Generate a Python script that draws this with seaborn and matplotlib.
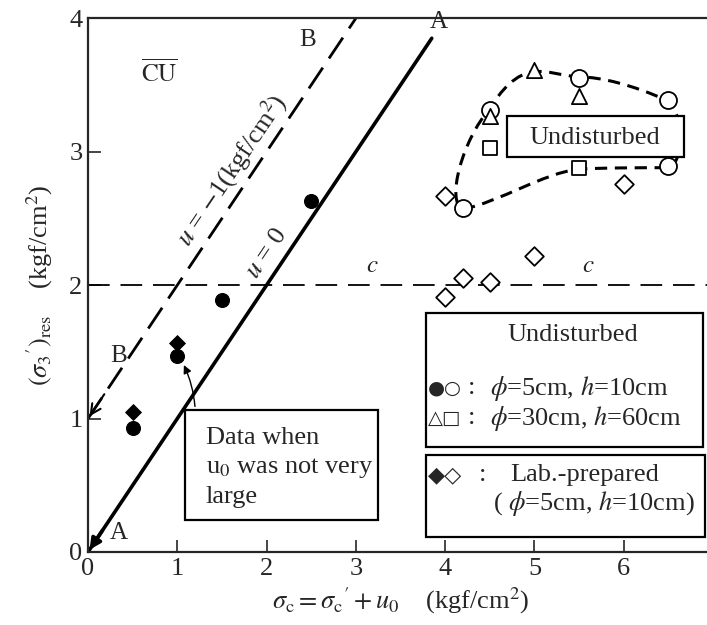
import numpy as np
import pandas as pd
import matplotlib
matplotlib.use("Agg")
import matplotlib.pyplot as plt
from matplotlib.path import Path
from matplotlib.patches import PathPatch, Rectangle
import seaborn as sns

sns.set_style("ticks")
plt.rcParams['font.family'] = ['Liberation Serif', 'DejaVu Sans']
plt.rcParams['mathtext.fontset'] = 'stix'

# Dados
filled_circle_x = [0.5, 1.0, 1.5, 2.5]
filled_circle_y = [0.93, 1.47, 1.89, 2.63]
filled_diamond_x = [0.5, 1.0]
filled_diamond_y = [1.05, 1.57]
open_circle_x = [4.2, 4.5, 5.5, 6.5, 6.5]
open_circle_y = [2.58, 3.31, 3.55, 3.39, 2.89]
open_triangle_x = [4.5, 5.0, 5.5]
open_triangle_y = [3.27, 3.61, 3.42]
open_square_x = [4.5, 5.5]
open_square_y = [3.03, 2.88]
open_diamond_x = [4.0, 4.0, 4.2, 4.5, 5.0, 6.0]
open_diamond_y = [1.91, 2.67, 2.05, 2.02, 2.22, 2.76]

# Retas u=0 (A) e u=-1 (B), linha c
line_A_x = [0.0, 3.85]
line_A_y = [0.0, 3.85]
line_B_x = [0.0, 3.0]
line_B_y = [1.0, 4.0]
c_x = [0.0, 7.0]
c_y = [2.0, 2.0]

# Envoltória tracejada (pontos de controle Bezier)
env_x = [4.2, 4.6, 5.1, 5.5, 5.8, 6.2, 6.5, 6.68, 6.68, 6.5,
         6.1, 5.75, 5.5, 5.3, 5.15, 5.0, 4.8, 4.62, 4.5, 4.2, 4.0, 4.2]
env_y = [2.57, 2.62, 2.84, 2.87, 2.88, 2.88, 2.88, 2.92, 3.26, 3.38,
         3.5, 3.56, 3.56, 3.57, 3.61, 3.6, 3.59, 3.46, 3.32, 3.1, 2.62, 2.57]

x_ticks = [0, 1, 2, 3, 4, 5, 6, 7]
y_ticks = [0, 1, 2, 3, 4]

fig = plt.figure(figsize=(7.07, 6.25), dpi=100)
ax = fig.add_axes([0.1245, 0.1168, 0.884, 0.854])

# Retas
sns.lineplot(x=line_A_x, y=line_A_y, ax=ax, color='black', lw=2.6)
sns.lineplot(x=line_B_x, y=line_B_y, ax=ax, color='black', lw=2.0)
ax.lines[-1].set_dashes([9, 4])
sns.lineplot(x=c_x, y=c_y, ax=ax, color='black', lw=1.3)
ax.lines[-1].set_dashes([12, 6])

ax.annotate('', xy=(line_A_x[0], line_A_y[0]), xytext=(0.18, 0.18),
            arrowprops=dict(arrowstyle='-|>', lw=2.6, color='black', mutation_scale=16))
ax.annotate('', xy=(line_B_x[0], line_B_y[0]), xytext=(0.2, 1.2),
            arrowprops=dict(arrowstyle='->', lw=1.5, color='black', mutation_scale=18))

# Envoltória
codes = [Path.MOVETO] + [Path.CURVE4] * (len(env_x) - 1)
env = PathPatch(Path(np.column_stack([env_x, env_y]), codes), fill=False,
                lw=2.2, ls=(0, (4, 2.5)), edgecolor='black', zorder=2)
ax.add_patch(env)

# Pontos
sns.scatterplot(x=filled_circle_x, y=filled_circle_y, ax=ax, marker='o', s=100,
                color='black', edgecolor='black', zorder=4)
sns.scatterplot(x=filled_diamond_x, y=filled_diamond_y, ax=ax, marker='D', s=65,
                color='black', edgecolor='black', zorder=4)
sns.scatterplot(x=open_circle_x, y=open_circle_y, ax=ax, marker='o', s=150,
                color='white', edgecolor='black', linewidth=1.3, zorder=4)
sns.scatterplot(x=open_triangle_x, y=open_triangle_y, ax=ax, marker='^', s=120,
                color='white', edgecolor='black', linewidth=1.3, zorder=5)
sns.scatterplot(x=open_square_x, y=open_square_y, ax=ax, marker='s', s=110,
                color='white', edgecolor='black', linewidth=1.3, zorder=4)
sns.scatterplot(x=open_diamond_x, y=open_diamond_y, ax=ax, marker='D', s=90,
                color='white', edgecolor='black', linewidth=1.3, zorder=4)

# Eixos
ax.set_xlim(0, 7)
ax.set_ylim(0, 4)
ax.set_xticks(x_ticks)
ax.set_yticks(y_ticks)
ax.tick_params(direction='in', length=9, width=1.2, labelsize=19, pad=4)
for s in ['left', 'bottom', 'top', 'right']:
    ax.spines[s].set_linewidth(1.6)
ax.set_xlabel(r"$\sigma_{\rm c}=\sigma_{\rm c}{}'+u_0$    (kgf/cm$^2$)", fontsize=19, labelpad=4)
ax.set_ylabel(r"$(\sigma_3{}')_{\rm res}$    (kgf/cm$^2$)", fontsize=19, labelpad=10)

# Textos
ax.text(0.8, 3.59, r"$\overline{\rm CU}$", fontsize=18, ha='center', va='center')
ax.text(2.46, 3.84, "B", fontsize=18, ha='center', va='center')
ax.text(0.34, 1.47, "B", fontsize=18, ha='center', va='center')
ax.text(3.93, 3.97, "A", fontsize=18, ha='center', va='center')
ax.text(0.34, 0.14, "A", fontsize=18, ha='center', va='center')
ax.text(1.61, 2.86, r"$u$ = $-$1(kgf/cm$^2$)", fontsize=19, rotation=56,
        ha='center', va='center')
ax.text(2.0, 2.24, r"$u$ = 0", fontsize=19, rotation=56, ha='center', va='center')
ax.text(3.18, 2.14, r"$c$", fontsize=18, ha='center', va='center')
ax.text(5.6, 2.14, r"$c$", fontsize=18, ha='center', va='center')

# Caixa "Undisturbed"
ax.add_patch(Rectangle((4.69, 2.96), 1.98, 0.31, fc='white', ec='black', lw=1.6, zorder=6))
ax.text(5.68, 3.1, "Undisturbed", fontsize=19, ha='center', va='center', zorder=7)

# Legenda
ax.add_patch(Rectangle((3.785, 0.787), 3.10, 1.003, fc='white', ec='black', lw=1.6, zorder=6))
ax.text(5.43, 1.625, "Undisturbed", fontsize=19, ha='center', va='center', zorder=7)
ax.text(3.81, 1.228, "\u25cf\u25cb", family='DejaVu Sans', fontsize=14,
        ha='left', va='center', zorder=7)
ax.text(4.26, 1.228, ":", fontsize=19, ha='left', va='center', zorder=7)
ax.text(4.5, 1.228, r"$\phi$=5cm, $h$=10cm", fontsize=19, ha='left', va='center', zorder=7)
ax.text(3.81, 1.004, "\u25b3\u25a1", family='DejaVu Sans', fontsize=14,
        ha='left', va='center', zorder=7)
ax.text(4.26, 1.004, ":", fontsize=19, ha='left', va='center', zorder=7)
ax.text(4.5, 1.004, r"$\phi$=30cm, $h$=60cm", fontsize=19, ha='left', va='center', zorder=7)

ax.add_patch(Rectangle((3.785, 0.112), 3.125, 0.615, fc='white', ec='black', lw=1.6, zorder=6))
ax.text(3.81, 0.577, "\u25c6\u25c7", family='DejaVu Sans', fontsize=16,
        ha='left', va='center', zorder=7)
ax.text(4.38, 0.577, ":", fontsize=19, ha='left', va='center', zorder=7)
ax.text(4.73, 0.577, "Lab.-prepared", fontsize=19, ha='left', va='center', zorder=7)
ax.text(4.54, 0.367, r"( $\phi$=5cm, $h$=10cm)", fontsize=19, ha='left', va='center', zorder=7)

# Caixa de observação
ax.add_patch(Rectangle((1.086, 0.24), 2.16, 0.824, fc='white', ec='black', lw=1.6, zorder=6))
ax.text(1.32, 0.854, "Data when", fontsize=19, ha='left', va='center', zorder=7)
ax.text(1.32, 0.629, r"u$_0$ was not very", fontsize=19, ha='left', va='center', zorder=7)
ax.text(1.32, 0.412, "large", fontsize=19, ha='left', va='center', zorder=7)
ax.annotate('', xy=(1.06, 1.42), xytext=(1.2, 1.07),
            arrowprops=dict(arrowstyle='-|>', lw=1.0, color='black',
                            connectionstyle='arc3,rad=0.1', mutation_scale=12))

plt.savefig("out.png", dpi=100)
plt.close()
